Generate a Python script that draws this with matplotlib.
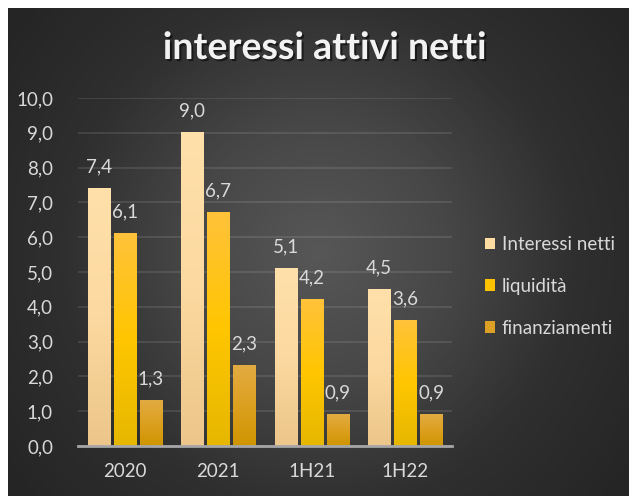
import numpy as np
import matplotlib
matplotlib.use("Agg")
import matplotlib.pyplot as plt
from matplotlib.patches import Patch
from matplotlib.colors import LinearSegmentedColormap
import matplotlib.patheffects as pe

categories = ["2020", "2021", "1H21", "1H22"]
series_names = ["Interessi netti", "liquidità", "finanziamenti"]
interessi = [7.4, 9.0, 5.1, 4.5]
liquidita = [6.1, 6.7, 4.2, 3.6]
finanziamenti = [1.3, 2.3, 0.9, 0.9]
yticks = [0, 1, 2, 3, 4, 5, 6, 7, 8, 9, 10]
title = "interessi attivi netti"

series = [interessi, liquidita, finanziamenti]
grad_colors = [
    ["#FFE0AA", "#FCD9A0", "#ECC68A"],
    ["#FFC23A", "#FFC600", "#E6B700"],
    ["#E2AB42", "#DCA020", "#CF9500"],
]
legend_colors = ["#FFDCA2", "#FFC200", "#DCA024"]

FONT = "Lato"
TXT = "#D9D9D9"

W, H = 629, 496
fig = plt.figure(figsize=(W / 100, H / 100), dpi=100, facecolor="white")

# background radial gradient
bg = fig.add_axes([8 / W, 0, (W - 8) / W, (H - 8) / H], zorder=0)
bw, bh = W - 8, H - 8
yy, xx = np.mgrid[0:bh, 0:bw]
cx, cy = bw * 0.5, bh * 0.5
r = np.sqrt(((xx - cx) / (bw * 0.62)) ** 2 + ((yy - cy) / (bw * 0.62)) ** 2)
r = np.clip(r, 0, 1)
bgcmap = LinearSegmentedColormap.from_list("bg", ["#575757", "#474747", "#2F2F2F", "#252525"])
bg.imshow(r, cmap=bgcmap, vmin=0, vmax=1, aspect="auto", interpolation="bilinear")
bg.set_axis_off()

ax = fig.add_axes([78 / W, (H - 446) / H, (452 - 78) / W, (446 - 98) / H], zorder=1)
ax.patch.set_alpha(0)

x = np.arange(len(categories))
bw_ = 0.236
off = 0.279
for i, (vals, cols) in enumerate(zip(series, grad_colors)):
    cmap = LinearSegmentedColormap.from_list(f"g{i}", cols[::-1])
    xs = x + (i - 1) * off
    bars = ax.bar(xs, vals, width=bw_, color=cols[1], zorder=2)
    for b, v in zip(bars, vals):
        x0 = b.get_x()
        ax.add_patch(plt.Rectangle((x0 + 0.012, 0.0), bw_, v - 0.04, color="black",
                                   alpha=0.25, zorder=1.5, lw=0))
        grad = np.linspace(0, 1, 100).reshape(-1, 1)
        ax.imshow(grad, cmap=cmap, extent=[x0, x0 + bw_, 0, v], origin="lower",
                  aspect="auto", zorder=3, interpolation="bilinear")
        ax.text(b.get_x() + bw_ / 2, v + 0.38, f"{v:.1f}".replace(".", ","),
                ha="center", va="bottom", color=TXT, fontsize=13.5, family=FONT)

ax.set_xlim(-0.5, len(categories) - 0.5)
ax.set_ylim(0, 10)
ax.set_yticks(yticks)
ax.set_yticklabels([f"{t:.1f}".replace(".", ",") for t in yticks])
ax.set_xticks(x)
ax.set_xticklabels(categories)
ax.tick_params(axis="both", length=0, colors=TXT, labelsize=13.5)
ax.tick_params(axis="y", pad=18)
ax.tick_params(axis="x", pad=12)
for lab in ax.get_xticklabels() + ax.get_yticklabels():
    lab.set_family(FONT)
ax.grid(axis="y", color="white", alpha=0.12, lw=1.2, zorder=0)
ax.set_axisbelow(True)
for s in ["top", "right", "left"]:
    ax.spines[s].set_visible(False)
ax.spines["bottom"].set_color("#A6A6A6")
ax.spines["bottom"].set_linewidth(2)
ax.spines["bottom"].set_zorder(5)

fig.text(324 / W, 1 - 48 / H, title, ha="center", va="center", color="#F2F2F2",
         fontsize=27, fontweight="bold", family=FONT,
         path_effects=[pe.withSimplePatchShadow(offset=(1.5, -1.5), shadow_rgbFace="black", alpha=0.5)])

handles = [Patch(facecolor=c, edgecolor="none") for c in legend_colors]
leg = fig.legend(handles, series_names, loc="upper left", bbox_to_anchor=(485 / W, 1 - 236 / H),
                 frameon=False, fontsize=13.5, handlelength=0.55, handleheight=0.55,
                 handletextpad=0.35, labelspacing=1.32, borderaxespad=0, borderpad=0)
for t in leg.get_texts():
    t.set_color(TXT)
    t.set_family(FONT)

fig.savefig("out.png", dpi=100, facecolor="white")
